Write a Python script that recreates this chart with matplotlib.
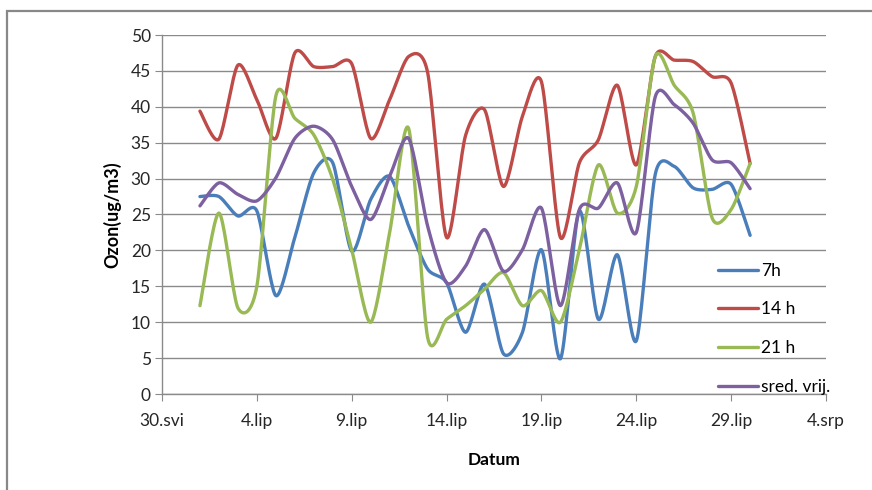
import numpy as np
import matplotlib
matplotlib.use("Agg")
import matplotlib.pyplot as plt
from matplotlib.patches import Rectangle

plt.rcParams.update({
    "font.family": ["Lato", "DejaVu Sans"],
    "font.size": 12.5,
})

# ---- data: June 1..30 (day index 1..30), x axis from 30.svi (-1) to 4.srp (34) ----
days = list(range(1, 31))
o3_7h = [27.5, 27.5, 24.8, 25.5, 13.7, 21.8, 30.8, 32.2, 19.9, 27.1,
         30.3, 23.4, 17.4, 15.5, 8.6, 15.3, 5.6, 8.6, 20.1, 4.9,
         25.5, 10.4, 19.4, 7.4, 30.6, 31.7, 28.7, 28.5, 29.2, 22.1]
o3_14h = [39.4, 35.5, 45.8, 41.0, 35.6, 47.5, 45.6, 45.6, 46.0, 35.6,
          41.0, 47.0, 44.8, 21.8, 36.0, 39.6, 28.9, 38.7, 43.5, 21.8,
          32.2, 35.4, 43.0, 31.9, 47.0, 46.5, 46.3, 44.2, 43.3, 32.1]
o3_21h = [12.3, 25.2, 12.0, 15.0, 41.5, 38.4, 36.1, 29.9, 20.1, 10.0,
          22.5, 37.0, 7.9, 10.4, 12.3, 14.6, 16.9, 12.3, 14.4, 10.0,
          20.1, 31.9, 25.2, 28.9, 47.0, 43.0, 39.1, 24.5, 25.7, 32.1]
o3_mean = [26.2, 29.4, 27.8, 26.9, 30.1, 35.6, 37.3, 35.4, 28.9, 24.3,
           30.3, 35.6, 23.4, 15.5, 17.8, 22.9, 17.1, 20.1, 25.9, 12.3,
           25.7, 25.9, 29.4, 22.5, 41.4, 40.3, 37.7, 32.6, 32.2, 28.6]

tick_pos = [-1, 4, 9, 14, 19, 24, 29, 34]
tick_lab = ["30.svi", "4.lip", "9.lip", "14.lip", "19.lip", "24.lip", "29.lip", "4.srp"]

series = [(o3_7h, "#4A7EBB", "7h"),
          (o3_14h, "#BE4B48", "14 h"),
          (o3_21h, "#98B954", "21 h"),
          (o3_mean, "#7D60A0", "sred. vrij.")]


def smooth(x, y, n=20, k=0.8):
    # Excel-style smoothed line (cardinal spline through the points)
    x = np.asarray(x, float); y = np.asarray(y, float)
    px = np.concatenate([[x[0]], x, [x[-1]]])
    py = np.concatenate([[y[0]], y, [y[-1]]])
    xs, ys = [], []
    t = np.linspace(0, 1, n, endpoint=False)
    h00 = 2 * t**3 - 3 * t**2 + 1
    h10 = t**3 - 2 * t**2 + t
    h01 = -2 * t**3 + 3 * t**2
    h11 = t**3 - t**2
    for i in range(1, len(px) - 2):
        for p, out in ((px, xs), (py, ys)):
            p0, p1, p2, p3 = p[i - 1], p[i], p[i + 1], p[i + 2]
            m1 = k * (p2 - p0) / 2
            m2 = k * (p3 - p1) / 2
            out.extend(h00 * p1 + h10 * m1 + h01 * p2 + h11 * m2)
    xs.append(x[-1]); ys.append(y[-1])
    return xs, ys


fig = plt.figure(figsize=(8.72, 4.90), dpi=100)
ax = fig.add_axes([162 / 872, 96 / 490, 664 / 872, 359 / 490])

for vals, col, lab in series:
    sx, sy = smooth(days, vals)
    ax.plot(sx, sy, color=col, lw=2.4, label=lab, solid_capstyle="round")

ax.set_xlim(-1, 34)
ax.set_ylim(0, 50)
ax.set_yticks(range(0, 51, 5))
ax.set_xticks(tick_pos)
ax.set_xticklabels(tick_lab)
ax.grid(True, axis="y", color="#8a8a8a", lw=1.0)
ax.set_axisbelow(True)
for s in ("top", "right"):
    ax.spines[s].set_visible(False)
for s in ("left", "bottom"):
    ax.spines[s].set_color("#8a8a8a")
    ax.spines[s].set_linewidth(1.0)
ax.tick_params(axis="both", colors="#8a8a8a", labelcolor="#262626", length=5)
ax.tick_params(axis="x", pad=9)
ax.tick_params(axis="y", pad=3)

ax.set_ylabel("Ozon(ug/m3)", fontweight="bold", fontsize=13, labelpad=7)
ax.set_xlabel("Datum", fontweight="bold", fontsize=12.5, labelpad=16)

ax.legend(loc="upper left", bbox_to_anchor=(0.825, 0.39), frameon=False,
          handlelength=2.3, handletextpad=0.15, labelspacing=1.31,
          borderpad=0, fontsize=12.5)

# outer chart border
fig.patches.append(Rectangle((7 / 872, -0.1), 2, 1 - 11 / 490 + 0.1,
                             transform=fig.transFigure, fill=False,
                             edgecolor="#888888", lw=1.6))

fig.savefig("out.png", dpi=100, facecolor="white")
